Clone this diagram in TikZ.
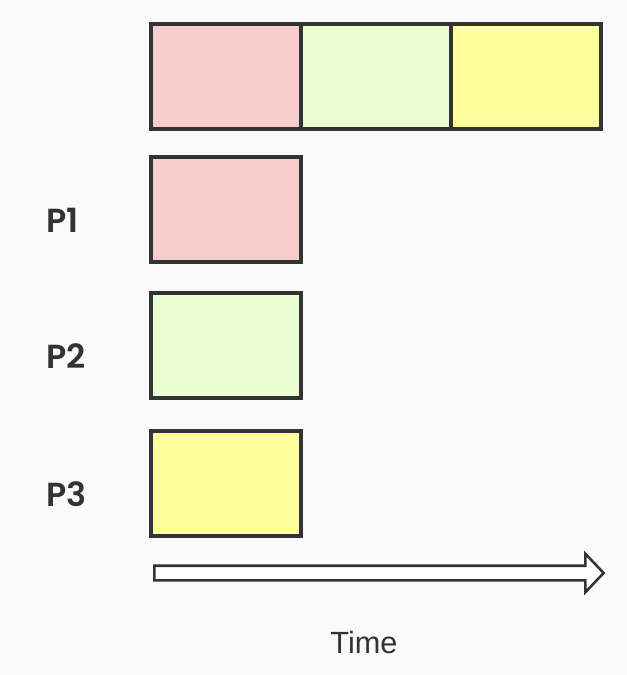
\documentclass[tikz,border=0pt]{standalone}
\usepackage{fontspec}
\setmainfont{Liberation Sans}
\newfontfamily\plabelfont{Poppins SemiBold}
\usetikzlibrary{shapes,shapes.arrows,positioning}
\definecolor{bgcol}{RGB}{250,250,250}
\definecolor{linecol}{RGB}{51,51,51}
\definecolor{pinkcol}{RGB}{248,206,204}
\definecolor{greencol}{RGB}{234,255,210}
\definecolor{yellowcol}{RGB}{255,255,158}

\begin{document}
\begin{tikzpicture}[x=0.75pt, y=-0.75pt,
	slot/.style={rectangle, draw=linecol, line width=2.3pt, outer sep=0pt,
		minimum width=112.5pt, minimum height=78.75pt},
	proc/.style={anchor=base west, text=linecol, font=\plabelfont\fontsize{25}{30}\selectfont}
]
\fill [bgcol] (0,0) rectangle (627,675);

% time line
\node [slot, fill=pinkcol] (s1) at (226,76.5) {};
\node [slot, fill=greencol, right=0pt of s1] (s2) {};
\node [slot, fill=yellowcol, right=0pt of s2] (s3) {};

% processes
\node [slot, fill=pinkcol] (p1) at (226,209.5) {};
\node [slot, fill=greencol] (p2) at (226,345.5) {};
\node [slot, fill=yellowcol] (p3) at (226,483.5) {};

\node [proc] (l1) at (42,232) {P1};
\node [proc] (l2) at (42,368) {P2};
\node [proc] (l3) at (42,506) {P3};

\node [single arrow, draw=linecol, fill=white, line width=1.9pt, inner xsep=0pt, inner ysep=4.5pt,
	minimum height=337pt, minimum width=27pt, single arrow head extend=9pt,
	single arrow tip angle=93, single arrow head indent=0pt] (timearrow) at (375.5,573) {};

\node [anchor=base, text=linecol, font=\fontsize{23}{28}\selectfont] (tlabel) at (364,653) {Time};
\end{tikzpicture}
\end{document}
